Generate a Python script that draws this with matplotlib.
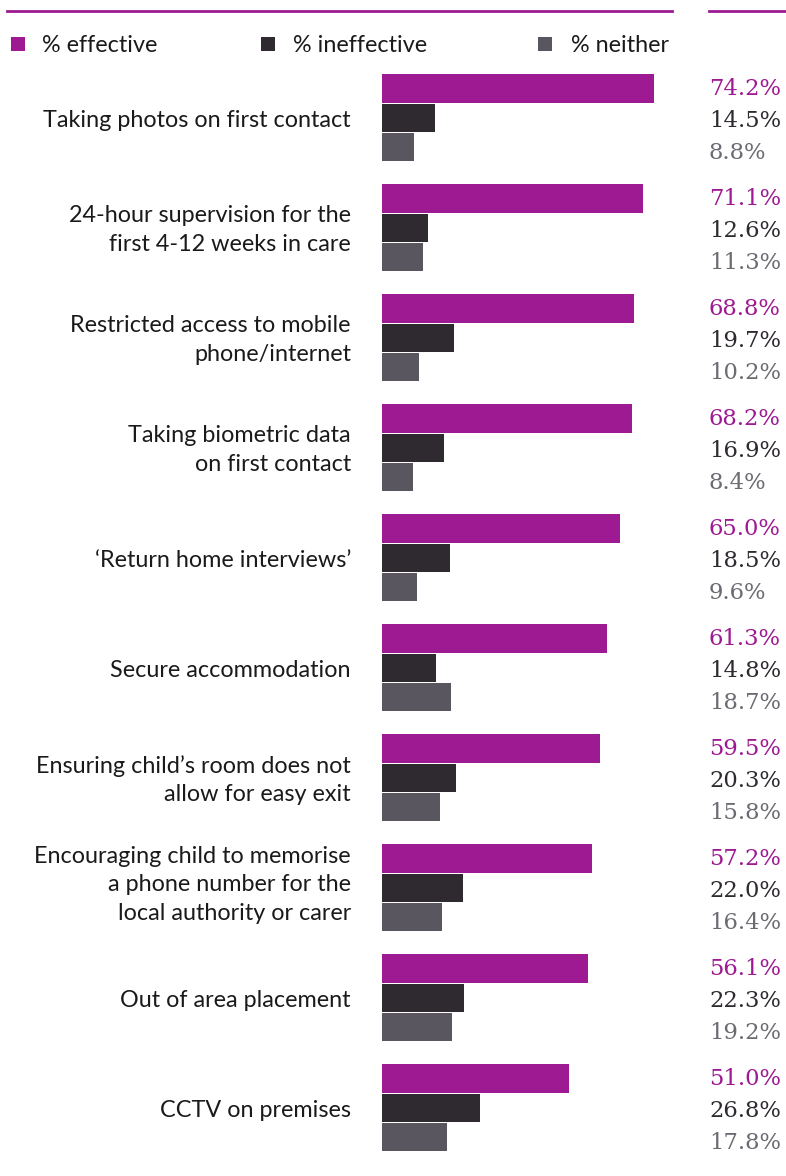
import matplotlib
matplotlib.use("Agg")
import matplotlib.pyplot as plt
from matplotlib.transforms import blended_transform_factory
from matplotlib.lines import Line2D
from matplotlib.patches import Rectangle

categories = [
    "Taking photos on first contact",
    "24-hour supervision for the\nfirst 4-12 weeks in care",
    "Restricted access to mobile\nphone/internet",
    "Taking biometric data\non first contact",
    "\u2018Return home interviews\u2019",
    "Secure accommodation",
    "Ensuring child\u2019s room does not\nallow for easy exit",
    "Encouraging child to memorise\na phone number for the\nlocal authority or carer",
    "Out of area placement",
    "CCTV on premises",
]
effective = [74.2, 71.1, 68.8, 68.2, 65.0, 61.3, 59.5, 57.2, 56.1, 51.0]
ineffective = [14.5, 12.6, 19.7, 16.9, 18.5, 14.8, 20.3, 22.0, 22.3, 26.8]
neither = [8.8, 11.3, 10.2, 8.4, 9.6, 18.7, 15.8, 16.4, 19.2, 17.8]
series_names = ["% effective", "% ineffective", "% neither"]

bar_colors = ["#9E1A92", "#2E2A30", "#5A5660"]
text_colors = ["#9E1A92", "#2E2A30", "#6E6A72"]

W, H = 786, 1176
fig = plt.figure(figsize=(W / 100, H / 100), dpi=100)
fig.patch.set_facecolor("white")

px_per_pct = 3.666
x0 = 382
ax = fig.add_axes([x0 / W, 0, (W - x0) / W, 1])
ax.set_xlim(0, (W - x0) / px_per_pct)
# y in group units: group pitch 110px, group centre of first at 118px
ax.set_ylim((H - 118) / 110, -118 / 110)
ax.axis("off")

offsets = [-0.268, 0.0, 0.264]
height = 0.262
ys = list(range(len(categories)))
for s, vals in enumerate([effective, ineffective, neither]):
    ax.barh([y + offsets[s] for y in ys], vals, height=height,
            color=bar_colors[s], align="center", linewidth=0)

trans = blended_transform_factory(fig.transFigure, ax.transData)
label_off = [-0.264, 0.027, 0.318]
for i, y in enumerate(ys):
    nlines = categories[i].count("\n") + 1
    dy = 0.02 if nlines < 3 else -0.03
    ax.text(351 / W, y + dy, categories[i], transform=trans, ha="right", va="center",
            fontsize=16.8, family="Lato", color="#1a1a1a", linespacing=1.44,
            clip_on=False)
    for s, vals in enumerate([effective, ineffective, neither]):
        ax.text(709 / W, y + label_off[s], f"{vals[i]:.1f}%", transform=trans,
                ha="left", va="center", fontsize=16.3, family="DejaVu Serif",
                color=text_colors[s], clip_on=False)

# top rules
fig.add_artist(Line2D([7 / W, 672 / W], [1 - 11 / H, 1 - 11 / H], color="#9E1A92", lw=2))
fig.add_artist(Line2D([709 / W, 1.0], [1 - 11 / H, 1 - 11 / H], color="#9E1A92", lw=2))

# legend
leg_sq_x = [11, 261, 538]
leg_tx_x = [42, 293, 571]
for s in range(3):
    fig.add_artist(Rectangle((leg_sq_x[s] / W, 1 - 51 / H), 14 / W, 14 / H,
                             color=bar_colors[s], transform=fig.transFigure, lw=0))
    fig.text(leg_tx_x[s] / W, 1 - 46 / H, series_names[s], ha="left", va="center",
             fontsize=16.8, family="Lato", color="#1a1a1a")

fig.savefig("out.png", dpi=100, facecolor="white")
